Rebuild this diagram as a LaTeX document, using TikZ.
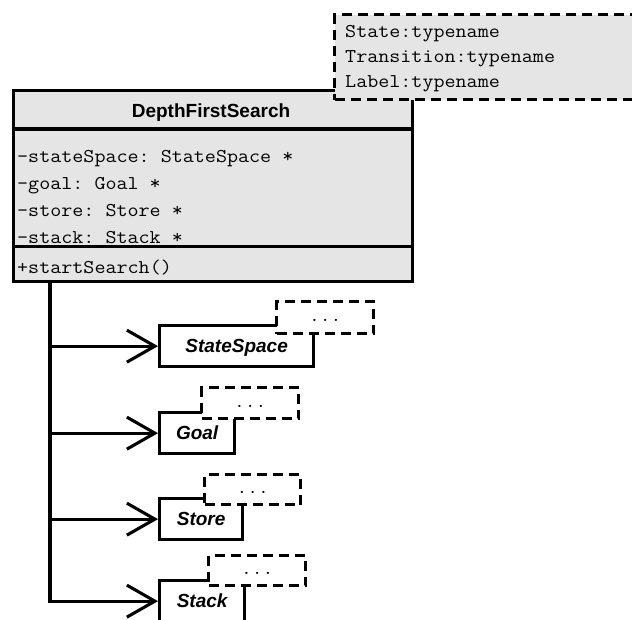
\documentclass[tikz,border=0pt]{standalone}
\usepackage{fontspec}
\setmainfont{Liberation Sans}
\setmonofont[FakeStretch=1.1]{Latin Modern Mono}
\usetikzlibrary{arrows.meta}
\begin{document}
\begin{tikzpicture}[x=1pt,y=-1pt,
  thickline/.style={line width=3.3pt},
  mainbox/.style={draw, line width=3.3pt, fill=black!10, inner sep=0pt, anchor=north west},
  tplbox/.style={draw, line width=3.3pt, dash pattern=on 10pt off 6pt, inner sep=0pt, anchor=north west},
  classbox/.style={draw, line width=3.3pt, fill=white, inner sep=0pt, anchor=north west,
    font=\fontsize{19}{23}\selectfont\bfseries\itshape, text height=13.6pt, text depth=0pt},
  dots/.style={tplbox, fill=white, font=\fontsize{19}{23}\selectfont\ttfamily, text height=8pt, text depth=0pt},
  monotext/.style={anchor=base west, inner sep=0pt, font=\fontsize{19.5}{23}\selectfont\ttfamily},
  arrowline/.style={line width=3.1pt, -{Straight Barb[length=28pt,width=32pt]}}
]
\useasboundingbox (0,0) rectangle (632,619);
% main class
\node[mainbox, minimum width=399pt, minimum height=191pt] (main) at (12,89) {};
\draw[thickline] (12,129) -- (411,129);
% template parameters
\node[tplbox, fill=black!10, minimum width=310pt, minimum height=85pt] (tpl) at (333,13) {};
\node[monotext] (t1) at (345,37) {State:typename};
\node[monotext] (t2) at (345,62) {Transition:typename};
\node[monotext] (t3) at (345,87) {Label:typename};
% texts of main class
\node[anchor=base, inner sep=0pt, font=\fontsize{19}{23}\selectfont\bfseries] (title) at (211,117) {DepthFirstSearch};
\node[monotext] (a1) at (17,162) {-stateSpace: StateSpace *};
\node[monotext] (a2) at (17,189) {-goal: Goal *};
\node[monotext] (a3) at (17,216) {-store: Store *};
\begin{scope}
\clip (12,230) rectangle (411,245);
\node[monotext] (a4) at (17,243) {-stack: Stack *};
\end{scope}
\draw[thickline] (12,246.5) -- (411,246.5);
\node[monotext] (m1) at (17,273) {+startSearch()};
% referenced classes
\node[classbox, minimum width=154pt, minimum height=41pt] (ss) at (158,324) {StateSpace};
\node[classbox, minimum width=75pt, minimum height=41pt] (goal) at (158,411) {Goal};
\node[classbox, minimum width=83pt, minimum height=41pt] (store) at (158,497) {Store};
\node[classbox, minimum width=85pt, minimum height=41pt] (stack) at (158,579) {Stack};
% their template boxes
\node[dots, minimum width=97pt, minimum height=32pt] (ssT) at (275,300) {...};
\node[dots, minimum width=97pt, minimum height=31pt] (goalT) at (200,386) {...};
\node[dots, minimum width=96pt, minimum height=30pt] (storeT) at (203,473) {...};
\node[dots, minimum width=97pt, minimum height=30pt] (stackT) at (207,554) {...};
% connectors
\coordinate (bus) at (50,602);
\draw[arrowline] (main.south -| bus) |- (stack.west);
\draw[arrowline] (bus |- ss.west) -- (ss.west);
\draw[arrowline] (bus |- goal.west) -- (goal.west);
\draw[arrowline] (bus |- store.west) -- (store.west);
\end{tikzpicture}
\end{document}
